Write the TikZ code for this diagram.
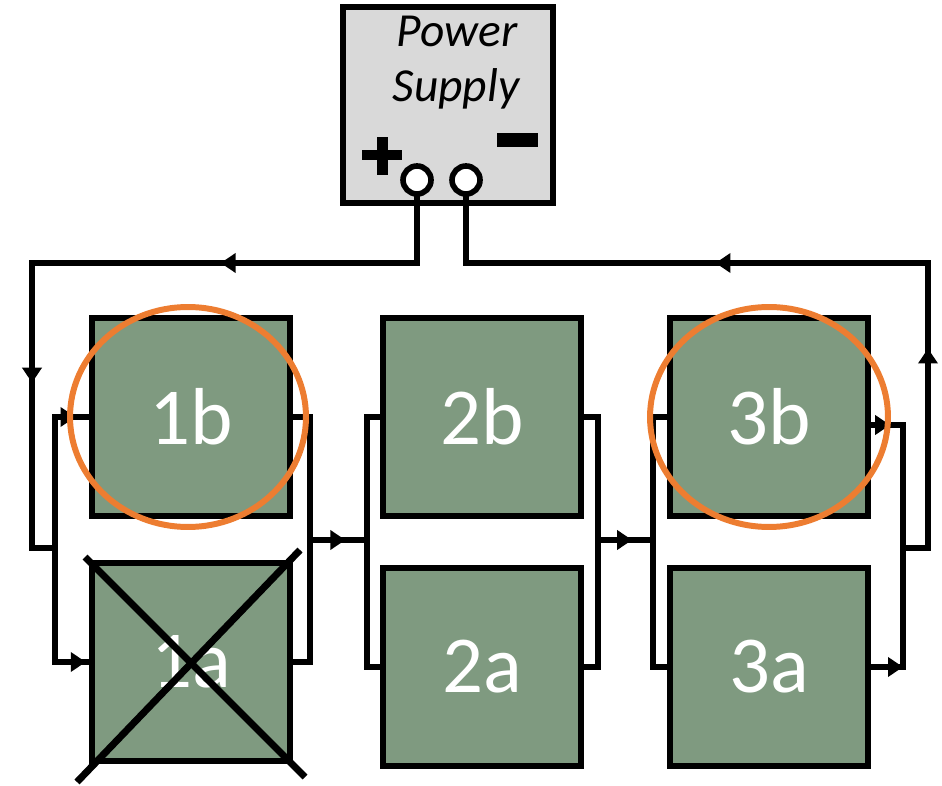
\documentclass[tikz,border=0pt]{standalone}
\usepackage{fontspec}
\setmainfont{Carlito}
\usetikzlibrary{arrows.meta,decorations.markings}
\definecolor{cellgreen}{HTML}{7F9A80}
\definecolor{psgray}{HTML}{D9D9D9}
\definecolor{ringorange}{HTML}{ED7D31}
\tikzset{
  cell/.style={draw,fill=cellgreen,line width=3.2pt,minimum width=3.96cm,minimum height=3.96cm,
    inner sep=0pt,text=white,font=\fontsize{46}{46}\selectfont},
  wire/.style={line width=3.6pt,line cap=rect},
  tip/.style={postaction={decorate},decoration={markings,
    mark=at position #1 with {\arrow{Triangle[length=0.3cm,width=0.38cm]}}}},
  terminal/.style={circle,draw,fill=white,line width=3.2pt,minimum size=0.56cm,inner sep=0pt},
  ring/.style={draw=ringorange,line width=3.4pt},
}
\begin{document}
\begin{tikzpicture}[x=0.02cm,y=-0.02cm]
  \useasboundingbox (0,0) rectangle (942,786);
  % power supply
  \node[draw,fill=psgray,line width=3.2pt,minimum width=4.2cm,minimum height=3.92cm] (psu) at (448,105) {};
  \node[anchor=base,font=\fontsize{27}{30}\selectfont\itshape] (pwr) at (457,47) {Power};
  \node[anchor=base,font=\fontsize{27}{30}\selectfont\itshape] (sup) at (456,102) {Supply};
  \fill (362,150) rectangle (402,160);
  \fill (377,137) rectangle (388,175);
  \fill (497,133) rectangle (538,147);
  \node[terminal] (tp) at (417,180) {};
  \node[terminal] (tm) at (466,180) {};

  % cells
  \node[cell] (b1) at (191,417) {1b};
  \node[cell] (a1) at (191,662) {1a};
  \node[cell] (b2) at (482,417) {2b};
  \node[cell] (a2) at (482,667) {2a};
  \node[cell] (b3) at (769,417) {3b};
  \node[cell] (a3) at (769,667) {3a};

  % wire corners
  \coordinate (tpd) at (417,263);
  \coordinate (lt) at (32,263);
  \coordinate (lb) at (32,548);
  \coordinate (l1m) at (55,548);
  \coordinate (r1m) at (310,540);
  \coordinate (l2m) at (367,540);
  \coordinate (r2m) at (598,540);
  \coordinate (l3m) at (653,540);
  \coordinate (r3t) at (903,425);
  \coordinate (r3m) at (903,548);
  \coordinate (rb) at (928,548);
  \coordinate (rt) at (928,263);
  \coordinate (tmd) at (466,263);

  % feed from +
  \draw[wire] (tp.south) -- (tpd);
  \draw[wire,tip=0.51] (tpd) -- (lt);
  \draw[wire,tip=0.42] (lt) -- (lb);
  \draw[wire] (lb) -- (l1m);
  % group 1
  \draw[wire] (b1.west -| l1m) -- (a1.west -| l1m);
  \draw[wire,tip=0.6] (b1.west -| l1m) -- (b1.west);
  \draw[wire,tip=0.9] (a1.west -| l1m) -- (a1.west);
  \draw[wire] (b1.east) -| (r1m) |- (a1.east);
  \draw[wire,tip=0.62] (r1m) -- (l2m);
  % group 2
  \draw[wire] (b2.west) -| (l2m) |- (a2.west);
  \draw[wire] (b2.east) -| (r2m) |- (a2.east);
  \draw[wire,tip=0.62] (r2m) -- (l3m);
  % group 3
  \draw[wire] (b3.west) -| (l3m) |- (a3.west);
  \draw[wire,tip=0.6] (r3t -| b3.east) -- (r3t);
  \draw[wire] (r3t) |- (a3.east);
  \draw[wire,-{Triangle[length=0.3cm,width=0.38cm]}] (a3.east) -- (a3.east -| r3m);
  % return to -
  \draw[wire] (r3m) -- (rb);
  \draw[wire,tip=0.7] (rb) -- (rt);
  \draw[wire,tip=0.46] (rt) -- (tmd);
  \draw[wire] (tmd) -- (tm.south);

  % failed cell
  \draw[line width=4pt] (77,782) -- (300,550);
  \draw[line width=4pt] (85,557) -- (305,777);
  % marked cells
  \draw[ring] (188,417) ellipse [x radius=2.36cm,y radius=2.2cm];
  \draw[ring] (769,417) ellipse [x radius=2.38cm,y radius=2.2cm];
\end{tikzpicture}
\end{document}
